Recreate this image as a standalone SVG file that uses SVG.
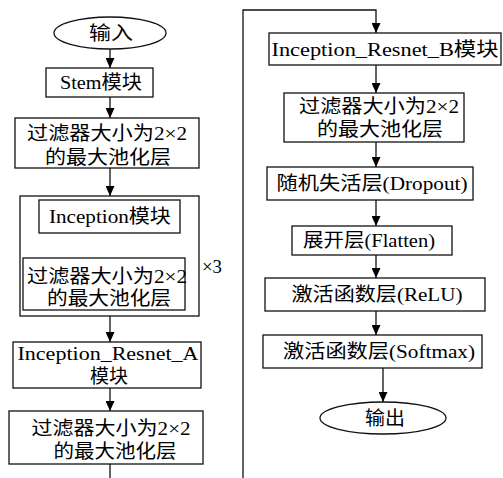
<svg xmlns="http://www.w3.org/2000/svg" width="503" height="478" viewBox="0 0 503 478">
<style>
.b{fill:#fff;stroke:#111;stroke-width:1.3}
.t{font-family:"Liberation Serif","Noto Sans CJK SC",serif;font-size:19px;fill:#000;text-anchor:middle}
.c{fill:none;stroke:#111;stroke-width:1.3}
</style>
<defs>
<marker id="ah" markerUnits="userSpaceOnUse" markerWidth="10" markerHeight="9" refX="10" refY="4.5" orient="auto">
<path d="M0,0 L10,4.5 L0,9 z" fill="#000"/>
</marker>
</defs>
<rect width="503" height="478" fill="#fff"/>
<g id="connectors">
<line class="c" x1="110" y1="49" x2="110" y2="68" marker-end="url(#ah)"/>
<line class="c" x1="110" y1="97" x2="110" y2="118" marker-end="url(#ah)"/>
<line class="c" x1="110" y1="168" x2="110" y2="196" marker-end="url(#ah)"/>
<line class="c" x1="110" y1="233" x2="110" y2="258" marker-end="url(#ah)"/>
<line class="c" x1="110" y1="316" x2="110" y2="342" marker-end="url(#ah)"/>
<line class="c" x1="110" y1="388" x2="110" y2="411" marker-end="url(#ah)"/>
<line class="c" x1="110" y1="464" x2="110" y2="478"/>
<polyline class="c" points="243,478 243,10 376,10 376,33" marker-end="url(#ah)"/>
<line class="c" x1="376" y1="65" x2="376" y2="93" marker-end="url(#ah)"/>
<line class="c" x1="376" y1="142" x2="376" y2="167" marker-end="url(#ah)"/>
<line class="c" x1="376" y1="200" x2="376" y2="226" marker-end="url(#ah)"/>
<line class="c" x1="376" y1="255" x2="376" y2="278" marker-end="url(#ah)"/>
<line class="c" x1="376" y1="311" x2="376" y2="335" marker-end="url(#ah)"/>
<line class="c" x1="383" y1="368" x2="383" y2="402" marker-end="url(#ah)"/>
</g>
<g id="input">
<ellipse class="b" cx="110" cy="33" rx="56" ry="16"/>
<text class="t" x="111" y="40" textLength="44" lengthAdjust="spacingAndGlyphs">输入</text>
</g>
<g id="stem">
<rect class="b" x="46" y="68" width="107" height="29"/>
<text class="t" x="101" y="89" textLength="82" lengthAdjust="spacingAndGlyphs">Stem模块</text>
</g>
<g id="pool1">
<rect class="b" x="15" y="118" width="184" height="50"/>
<text class="t" x="107" y="140" textLength="160" lengthAdjust="spacingAndGlyphs">过滤器大小为2×2</text>
<text class="t" x="108" y="164" textLength="126" lengthAdjust="spacingAndGlyphs">的最大池化层</text>
</g>
<g id="repeat">
<rect class="b" x="20" y="196" width="179" height="120"/>
<text class="t" x="212" y="273" textLength="20" lengthAdjust="spacingAndGlyphs">×3</text>
</g>
<g id="inception">
<rect class="b" x="39" y="200" width="141" height="33"/>
<text class="t" x="110" y="223" textLength="122" lengthAdjust="spacingAndGlyphs">Inception模块</text>
</g>
<g id="pool-inner">
<rect class="b" x="23" y="258" width="162" height="52"/>
<text class="t" x="107" y="283" textLength="160" lengthAdjust="spacingAndGlyphs">过滤器大小为2×2</text>
<text class="t" x="109" y="305" textLength="124" lengthAdjust="spacingAndGlyphs">的最大池化层</text>
</g>
<g id="resnet-a">
<rect class="b" x="13" y="342" width="188" height="46"/>
<text class="t" x="108" y="360" textLength="181" lengthAdjust="spacingAndGlyphs">Inception_Resnet_A</text>
<text class="t" x="109" y="383" textLength="38" lengthAdjust="spacingAndGlyphs">模块</text>
</g>
<g id="pool2">
<rect class="b" x="9" y="411" width="194" height="53"/>
<text class="t" x="111" y="435" textLength="159" lengthAdjust="spacingAndGlyphs">过滤器大小为2×2</text>
<text class="t" x="115" y="458" textLength="123" lengthAdjust="spacingAndGlyphs">的最大池化层</text>
</g>
<g id="resnet-b">
<rect class="b" x="269" y="33" width="232" height="32"/>
<text class="t" x="385" y="56" textLength="227" lengthAdjust="spacingAndGlyphs">Inception_Resnet_B模块</text>
</g>
<g id="pool3">
<rect class="b" x="284" y="93" width="180" height="49"/>
<text class="t" x="379" y="113" textLength="160" lengthAdjust="spacingAndGlyphs">过滤器大小为2×2</text>
<text class="t" x="380" y="136" textLength="126" lengthAdjust="spacingAndGlyphs">的最大池化层</text>
</g>
<g id="dropout">
<rect class="b" x="267" y="167" width="206" height="33"/>
<text class="t" x="372" y="190" textLength="191" lengthAdjust="spacingAndGlyphs">随机失活层(Dropout)</text>
</g>
<g id="flatten">
<rect class="b" x="292" y="226" width="160" height="29"/>
<text class="t" x="369" y="247" textLength="132" lengthAdjust="spacingAndGlyphs">展开层(Flatten)</text>
</g>
<g id="relu">
<rect class="b" x="265" y="278" width="220" height="33"/>
<text class="t" x="377" y="301" textLength="171" lengthAdjust="spacingAndGlyphs">激活函数层(ReLU)</text>
</g>
<g id="softmax">
<rect class="b" x="263" y="335" width="219" height="33"/>
<text class="t" x="379" y="358" textLength="192" lengthAdjust="spacingAndGlyphs">激活函数层(Softmax)</text>
</g>
<g id="output">
<ellipse class="b" cx="383" cy="418" rx="63" ry="16"/>
<text class="t" x="385" y="425" textLength="40" lengthAdjust="spacingAndGlyphs">输出</text>
</g>
</svg>
